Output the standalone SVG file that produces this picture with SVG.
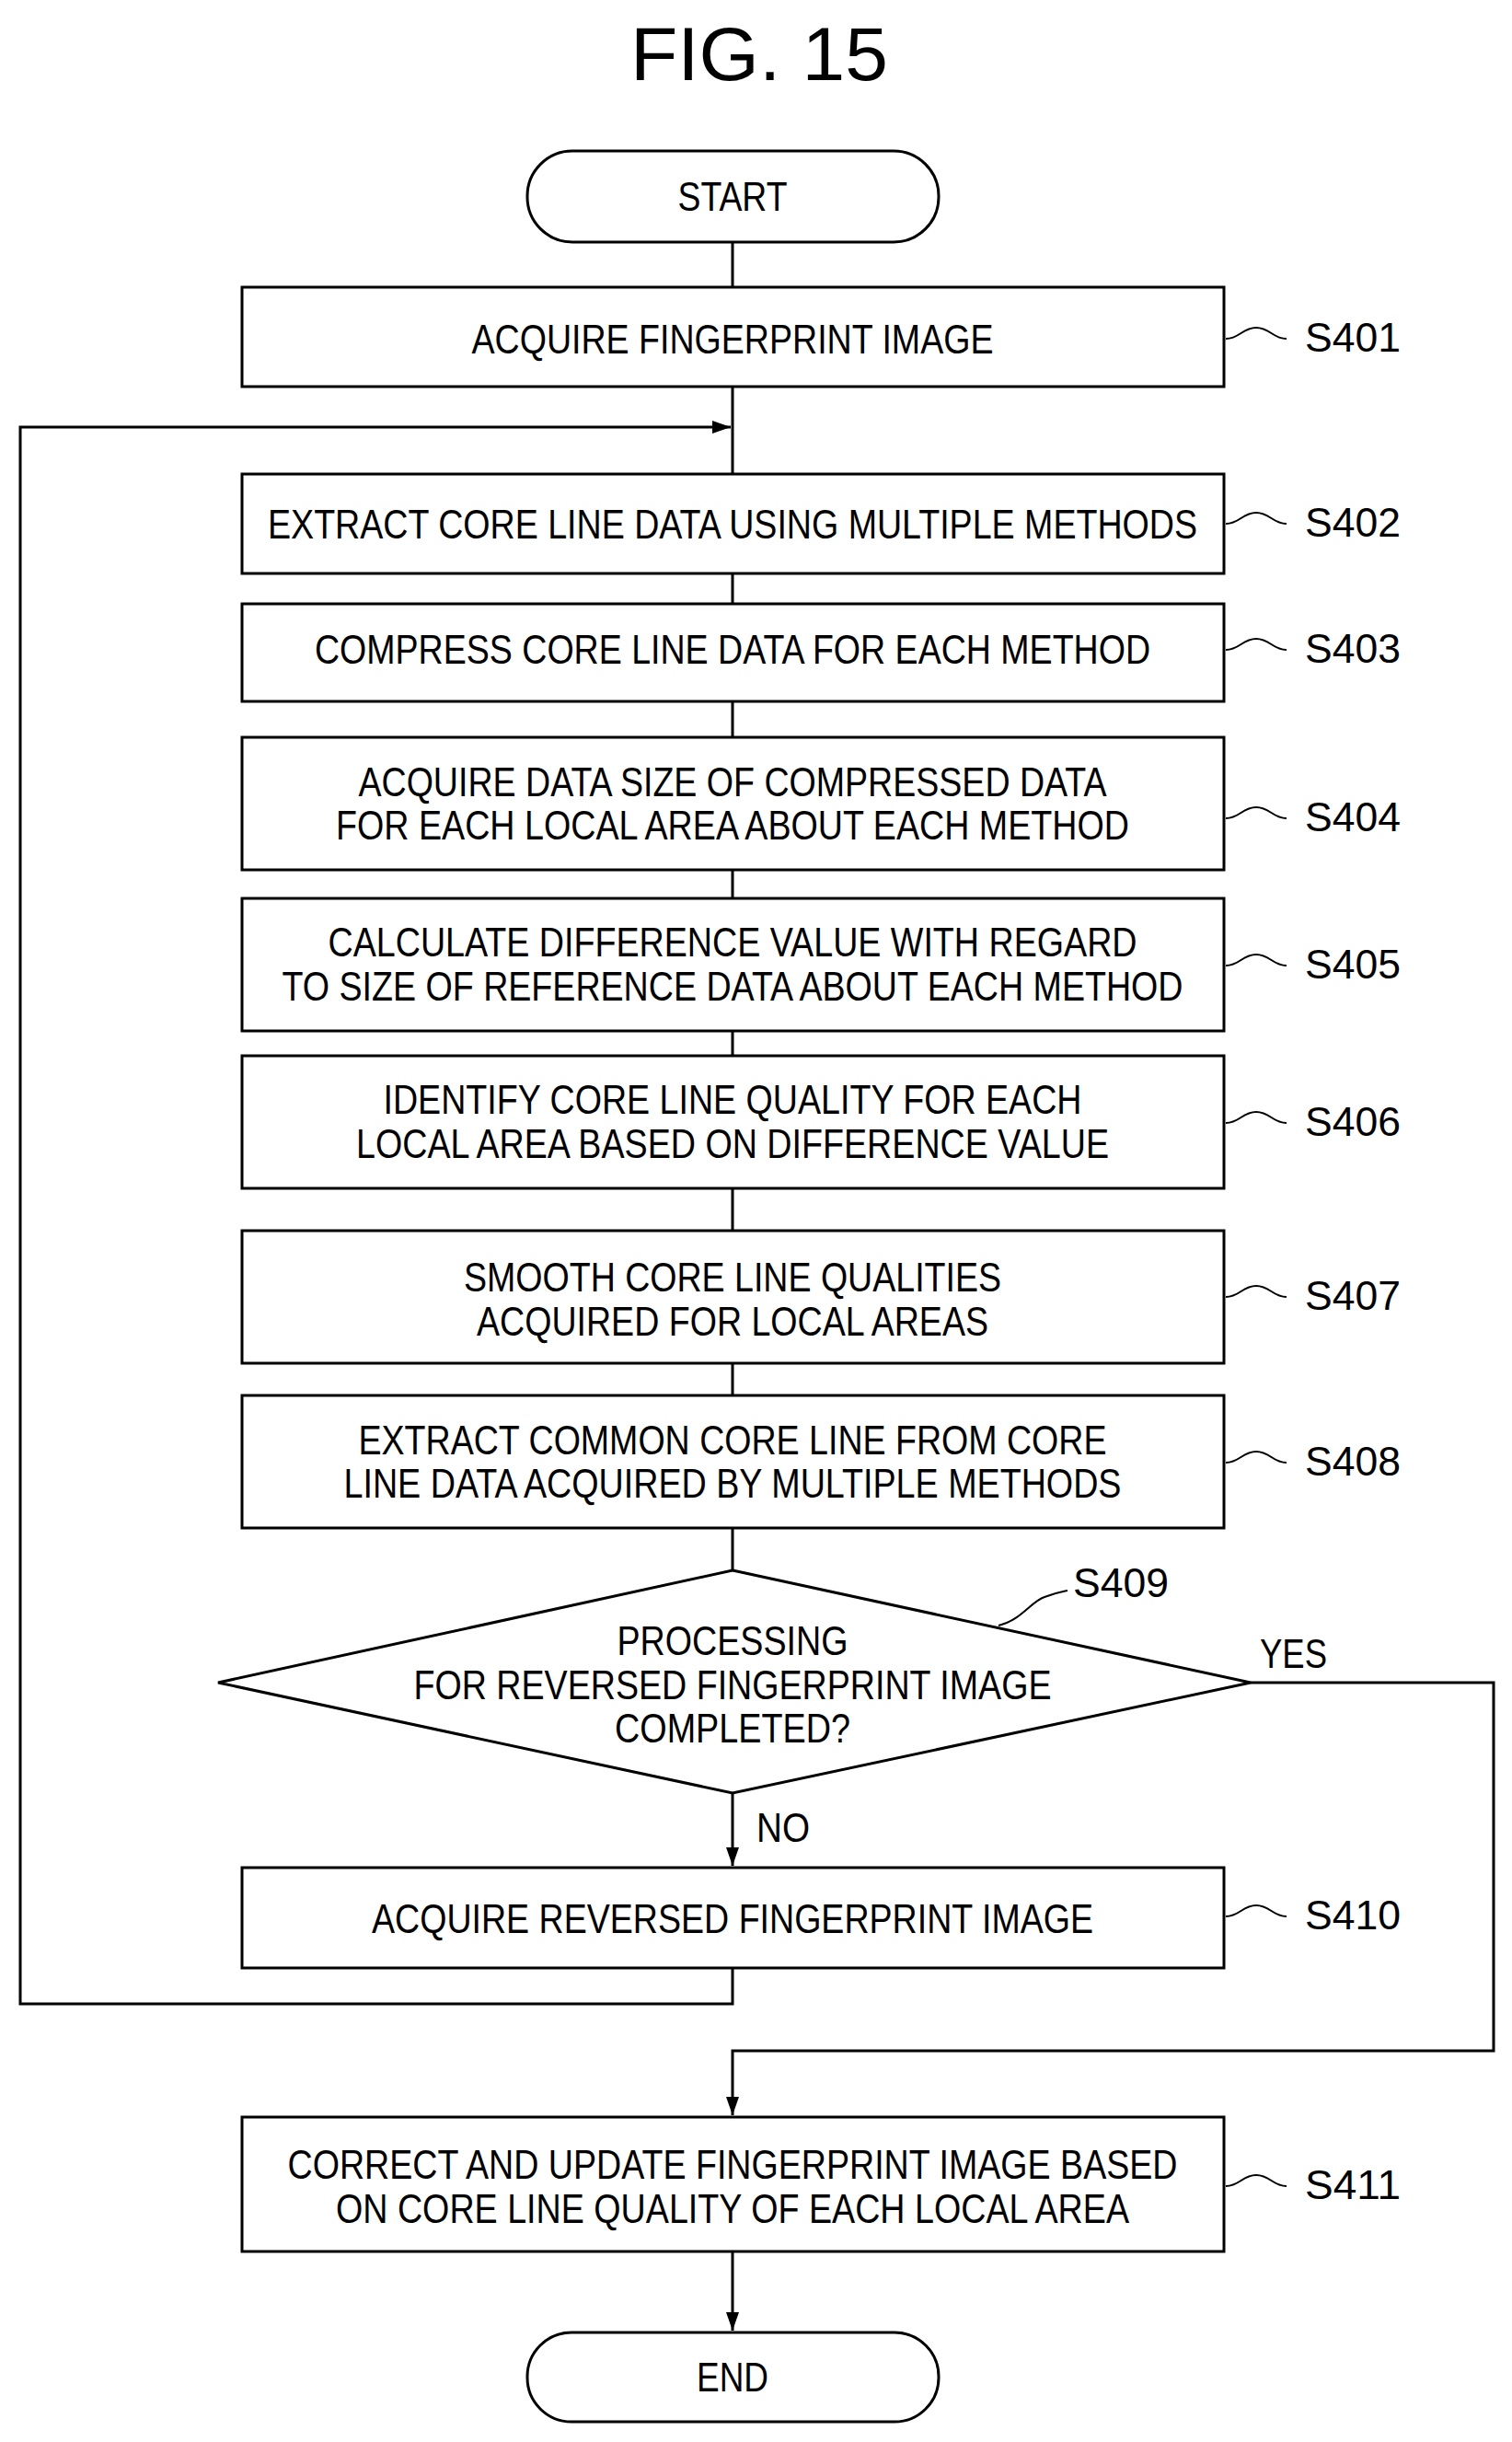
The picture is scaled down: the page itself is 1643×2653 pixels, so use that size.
<svg xmlns="http://www.w3.org/2000/svg" width="1643" height="2653" viewBox="0 0 1643 2653">
<defs><marker id="a2" viewBox="0 0 20 14" refX="20" refY="7" markerWidth="20" markerHeight="14" markerUnits="userSpaceOnUse" orient="auto"><path d="M0,0 L20,7 L0,14 z" fill="#000"/></marker></defs>
<style>
.b,path.s{fill:#fff;stroke:#000;stroke-width:3}
text{font-family:"Liberation Sans",Arial,sans-serif;font-size:44px;fill:#000;text-anchor:middle;dominant-baseline:central}
.l{text-anchor:start}
.c{fill:none;stroke:#000;stroke-width:3}
.t{fill:none;stroke:#000;stroke-width:2}
</style>
<rect width="1643" height="2653" fill="#fff"/>
<text x="825" y="58" style="font-size:82px" textLength="280" lengthAdjust="spacingAndGlyphs">FIG. 15</text>
<g id="connectors">
<path class="c" d="M796 263V312M796 420V515M796 623V656M796 762V801M796 945V976M796 1120V1147M796 1291V1337M796 1481V1516M796 1660V1706"/>
<path class="c" d="M796 1948V2027" marker-end="url(#a2)"/>
<path class="c" d="M796 2138V2177H22V464H794" marker-end="url(#a2)"/>
<path class="c" d="M1359 1828H1623V2228H796V2298" marker-end="url(#a2)"/>
<path class="c" d="M796 2446V2532" marker-end="url(#a2)"/>
</g>
<g id="start"><rect class="b" x="573" y="164" width="447" height="99" rx="49"/><text x="796" y="213" textLength="119" lengthAdjust="spacingAndGlyphs">START</text></g>
<g id="s401"><rect class="b" x="263" y="312" width="1067" height="108"/><text x="796" y="368" textLength="567" lengthAdjust="spacingAndGlyphs">ACQUIRE FINGERPRINT IMAGE</text></g>
<g id="s402"><rect class="b" x="263" y="515" width="1067" height="108"/><text x="796" y="569" textLength="1010" lengthAdjust="spacingAndGlyphs">EXTRACT CORE LINE DATA USING MULTIPLE METHODS</text></g>
<g id="s403"><rect class="b" x="263" y="656" width="1067" height="106"/><text x="796" y="705" textLength="908" lengthAdjust="spacingAndGlyphs">COMPRESS CORE LINE DATA FOR EACH METHOD</text></g>
<g id="s404"><rect class="b" x="263" y="801" width="1067" height="144"/><text x="796" y="849" textLength="813" lengthAdjust="spacingAndGlyphs">ACQUIRE DATA SIZE OF COMPRESSED DATA</text><text x="796" y="896" textLength="862" lengthAdjust="spacingAndGlyphs">FOR EACH LOCAL AREA ABOUT EACH METHOD</text></g>
<g id="s405"><rect class="b" x="263" y="976" width="1067" height="144"/><text x="796" y="1023" textLength="879" lengthAdjust="spacingAndGlyphs">CALCULATE DIFFERENCE VALUE WITH REGARD</text><text x="796" y="1071" textLength="979" lengthAdjust="spacingAndGlyphs">TO SIZE OF REFERENCE DATA ABOUT EACH METHOD</text></g>
<g id="s406"><rect class="b" x="263" y="1147" width="1067" height="144"/><text x="796" y="1194" textLength="759" lengthAdjust="spacingAndGlyphs">IDENTIFY CORE LINE QUALITY FOR EACH</text><text x="796" y="1242" textLength="818" lengthAdjust="spacingAndGlyphs">LOCAL AREA BASED ON DIFFERENCE VALUE</text></g>
<g id="s407"><rect class="b" x="263" y="1337" width="1067" height="144"/><text x="796" y="1387" textLength="584" lengthAdjust="spacingAndGlyphs">SMOOTH CORE LINE QUALITIES</text><text x="796" y="1435" textLength="556" lengthAdjust="spacingAndGlyphs">ACQUIRED FOR LOCAL AREAS</text></g>
<g id="s408"><rect class="b" x="263" y="1516" width="1067" height="144"/><text x="796" y="1564" textLength="813" lengthAdjust="spacingAndGlyphs">EXTRACT COMMON CORE LINE FROM CORE</text><text x="796" y="1611" textLength="845" lengthAdjust="spacingAndGlyphs">LINE DATA ACQUIRED BY MULTIPLE METHODS</text></g>
<g id="s409"><path class="s" d="M796 1706L1359 1828L796 1948L237 1828Z"/><text x="796" y="1782" textLength="251" lengthAdjust="spacingAndGlyphs">PROCESSING</text><text x="796" y="1830" textLength="693" lengthAdjust="spacingAndGlyphs">FOR REVERSED FINGERPRINT IMAGE</text><text x="796" y="1877" textLength="256" lengthAdjust="spacingAndGlyphs">COMPLETED?</text>
<path class="t" d="M1085 1766C1110 1760 1120 1740 1135 1735C1148 1730 1150 1730 1160 1728"/><text class="l" x="1166" y="1719" textLength="104" lengthAdjust="spacingAndGlyphs">S409</text>
<text class="l" x="1369" y="1796" textLength="73" lengthAdjust="spacingAndGlyphs">YES</text><text class="l" x="822" y="1985" textLength="58" lengthAdjust="spacingAndGlyphs">NO</text></g>
<g id="s410"><rect class="b" x="263" y="2029" width="1067" height="109"/><text x="796" y="2084" textLength="784" lengthAdjust="spacingAndGlyphs">ACQUIRE REVERSED FINGERPRINT IMAGE</text></g>
<g id="s411"><rect class="b" x="263" y="2300" width="1067" height="146"/><text x="796" y="2351" textLength="967" lengthAdjust="spacingAndGlyphs">CORRECT AND UPDATE FINGERPRINT IMAGE BASED</text><text x="796" y="2399" textLength="862" lengthAdjust="spacingAndGlyphs">ON CORE LINE QUALITY OF EACH LOCAL AREA</text></g>
<g id="end"><rect class="b" x="573" y="2534" width="447" height="97" rx="48"/><text x="796" y="2582" textLength="78" lengthAdjust="spacingAndGlyphs">END</text></g>
<g id="labels">
<path class="t" d="M1332 368c15 0 18-12 33-12s18 12 33 12M1332 569c15 0 18-12 33-12s18 12 33 12M1332 706c15 0 18-12 33-12s18 12 33 12M1332 889c15 0 18-12 33-12s18 12 33 12M1332 1049c15 0 18-12 33-12s18 12 33 12M1332 1220c15 0 18-12 33-12s18 12 33 12M1332 1409c15 0 18-12 33-12s18 12 33 12M1332 1589c15 0 18-12 33-12s18 12 33 12M1332 2082c15 0 18-12 33-12s18 12 33 12M1332 2375c15 0 18-12 33-12s18 12 33 12"/>
<text class="l" x="1418" y="366" textLength="104" lengthAdjust="spacingAndGlyphs">S401</text>
<text class="l" x="1418" y="567" textLength="104" lengthAdjust="spacingAndGlyphs">S402</text>
<text class="l" x="1418" y="704" textLength="104" lengthAdjust="spacingAndGlyphs">S403</text>
<text class="l" x="1418" y="887" textLength="104" lengthAdjust="spacingAndGlyphs">S404</text>
<text class="l" x="1418" y="1047" textLength="104" lengthAdjust="spacingAndGlyphs">S405</text>
<text class="l" x="1418" y="1218" textLength="104" lengthAdjust="spacingAndGlyphs">S406</text>
<text class="l" x="1418" y="1407" textLength="104" lengthAdjust="spacingAndGlyphs">S407</text>
<text class="l" x="1418" y="1587" textLength="104" lengthAdjust="spacingAndGlyphs">S408</text>
<text class="l" x="1418" y="2080" textLength="104" lengthAdjust="spacingAndGlyphs">S410</text>
<text class="l" x="1418" y="2373" textLength="104" lengthAdjust="spacingAndGlyphs">S411</text>
</g>
</svg>
